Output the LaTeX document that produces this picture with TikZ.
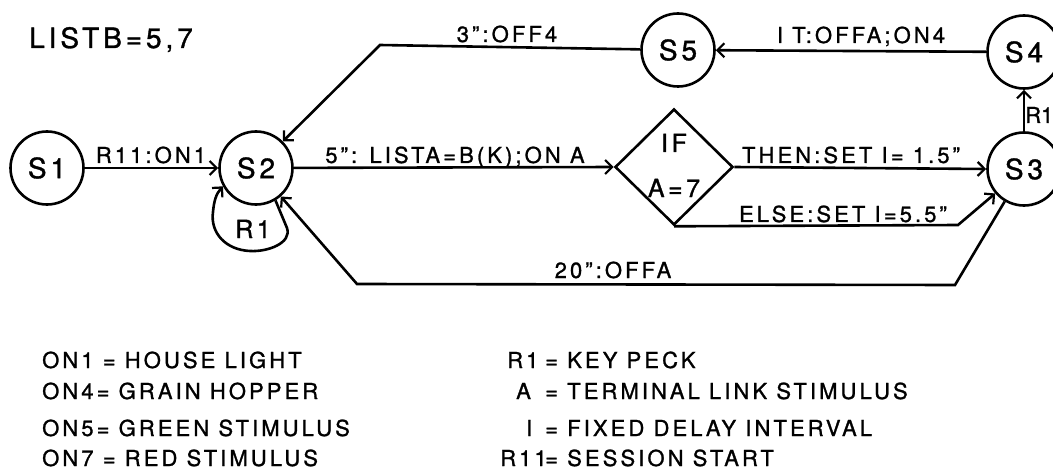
\documentclass[tikz,border=0pt]{standalone}
\usepackage{fontspec}
\setmainfont{TeX Gyre Heros}[LetterSpace=14,FakeBold=1.2]
\usetikzlibrary{arrows.meta,shapes.geometric}
\begin{document}
\begin{tikzpicture}[x=1pt,y=-1pt,
  ln/.style={line width=2.6pt},
  arr/.style={ln,-{Straight Barb[length=7pt,width=14pt,line width=2.2pt]}},
  st/.style={circle,draw,ln,minimum size=73pt,inner sep=0pt,font=\fontsize{28}{30}\selectfont},
  lab/.style={font=\fontsize{22}{24}\selectfont,inner sep=0pt,anchor=base},
  leg/.style={font=\fontsize{22}{24}\selectfont,inner sep=0pt,anchor=base west}]
\useasboundingbox (0,0) rectangle (1053,476);
% states
\node[st] (S1) at (47,168) {S1};
\node[st] (S2) at (256,168) {S2};
\node[st] (S5) at (678,50) {S5};
\node[st] (S4) at (1024,52) {S4};
\node[st] (S3) at (1024,169) {S3};
\node[diamond,draw,ln,aspect=1,minimum width=118pt,minimum height=116pt,inner sep=0pt] (D) at (674,167) {};
\node[font=\fontsize{25}{27}\selectfont,inner sep=0pt,anchor=base] (dif) at (674,152) {IF};
\node[font=\fontsize{25}{27}\selectfont,inner sep=0pt,anchor=base] (da7) at (674,197) {A=7};
% helper points
\coordinate (e1) at (958,225);
\coordinate (b1) at (955,285);
\coordinate (b2) at (357,284);
\coordinate (t1) at (380,45);
% connectors
\draw[arr] (S1) -- (S2);
\draw[arr] (S2) -- (D.west);
\draw[arr] (D.east) -- (S3.west);
\draw[arr] (D.south) -- (e1) -- (S3);
\draw[arr] (S3) -- (b1) -- (b2) -- (S2);
\draw[arr] (S3) -- (S4);
\draw[arr] (S4) -- (S5);
\draw[arr] (S5) -- (t1) -- (S2);
\draw[arr] (S2.-59) -- (287,228) .. controls (292,243) and (268,252) .. (250,251)
  .. controls (226,250) and (210,233) .. (213,212)
  .. controls (214,201) and (216,194) .. (S2.-151);
% labels
\node[font=\fontsize{28}{30}\selectfont,inner sep=0pt,anchor=base] (listb) at (111,48) {LISTB=5,7};
\node[lab] (lrii) at (151,163) {R11:ON1};
\node[lab] (l5) at (455,163) {5": LISTA=B(K);ON A};
\node[lab] (lthen) at (851,163) {THEN:SET I= 1.5"};
\node[lab] (lelse) at (843,222) {ELSE:SET I=5.5"};
\node[lab] (l20) at (613,278) {20":OFFA};
\node[lab] (l3) at (507,42) {3":OFF4};
\node[lab] (lit) at (861,43) {I T:OFFA;ON4};
\node[lab,anchor=base west,font=\fontsize{22}{24}\selectfont\addfontfeature{LetterSpace=0}] (lr1b) at (1025,123) {R1};
\node[lab,font=\fontsize{25}{27}\selectfont] (lr1a) at (253,238) {R1};
% legend
\node[leg] (g1) at (42,368) {ON1 = HOUSE LIGHT};
\node[leg] (g2) at (42,399) {ON4= GRAIN HOPPER};
\node[leg] (g3) at (42,436) {ON5= GREEN STIMULUS};
\node[leg] (g4) at (42,466) {ON7 = RED STIMULUS};
\node[leg] (k1) at (507,368) {R1};
\node[leg] (k2) at (516,399) {A};
\node[leg] (k3) at (526,436) {I};
\node[leg] (k4) at (500,466) {R11};
\node[leg] (v1) at (545,368) {= KEY PECK};
\node[leg] (v2) at (545,399) {= TERMINAL LINK STIMULUS};
\node[leg] (v3) at (545,436) {= FIXED DELAY INTERVAL};
\node[leg] (v4) at (545,466) {= SESSION START};
\end{tikzpicture}
\end{document}
